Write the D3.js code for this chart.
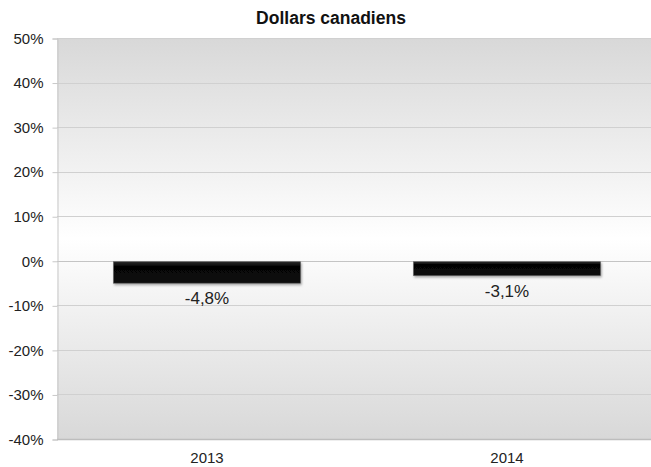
<!DOCTYPE html>
<html>
<head>
<meta charset="utf-8">
<script src="https://cdn.jsdelivr.net/npm/d3@7"></script>
<style>
	html, body { margin: 0; background: #fff; }
	svg { display: block; font-family: "Liberation Sans", Arial, sans-serif; }
</style>
</head>
<body>
<svg id="chart" width="651" height="467"></svg>
<script>
// chart data
const years = ['2013', '2014']
const changes = [-4.8, -3.1]
const labels = ['-4,8%', '-3,1%']
const yTicks = [50, 40, 30, 20, 10, 0, -10, -20, -30, -40]

const W = 651, H = 467
const margin = {top: 38, right: 0, bottom: 28, left: 57}

const svg = d3.select('#chart')

// the category bands run a little past the right edge of the picture
const x = d3.scaleBand().domain(years).range([margin.left, 657]).paddingInner(0.377).paddingOuter(0.1885)
const y = d3.scaleLinear().domain([-40, 50]).range([H - margin.bottom, margin.top])

// background gradient of the plot area
const defs = svg.append('defs')
const grad = defs.append('linearGradient').attr('id', 'bg').attr('x1', 0).attr('y1', 0).attr('x2', 0).attr('y2', 1)
grad.append('stop').attr('offset', '0%').attr('stop-color', '#d8d8d8')
grad.append('stop').attr('offset', '50%').attr('stop-color', '#ffffff')
grad.append('stop').attr('offset', '100%').attr('stop-color', '#d8d8d8')

const barGrad = defs.append('linearGradient').attr('id', 'bar').attr('x1', 0).attr('y1', 0).attr('x2', 0).attr('y2', 1)
barGrad.append('stop').attr('offset', '0%').attr('stop-color', '#2a2a2a')
barGrad.append('stop').attr('offset', '20%').attr('stop-color', '#050505')
barGrad.append('stop').attr('offset', '100%').attr('stop-color', '#0a0a0a')

const shadow = defs.append('filter').attr('id', 'shadow').attr('x', '-10%').attr('y', '-30%').attr('width', '120%').attr('height', '180%')
shadow.append('feDropShadow').attr('dx', 1).attr('dy', 1.5).attr('stdDeviation', 1).attr('flood-color', '#000').attr('flood-opacity', 0.35)

svg.append('rect')
	.attr('x', margin.left).attr('y', margin.top)
	.attr('width', W - margin.left - margin.right)
	.attr('height', y(-40) - y(50))
	.attr('fill', 'url(#bg)')

// gridlines
svg.append('g')
	.selectAll('line')
	.data(yTicks)
	.join('line')
	.attr('x1', margin.left).attr('x2', W - margin.right)
	.attr('y1', d => Math.round(y(d)) + 0.5).attr('y2', d => Math.round(y(d)) + 0.5)
	.attr('stroke', d => d === 0 ? '#c4c4c4' : '#d0d0d0')
	.attr('stroke-width', 1)

// y axis
const yAxis = d3.axisLeft(y).tickValues(yTicks).tickSize(5).tickPadding(9).tickFormat(d => d + '%')
const gy = svg.append('g').attr('transform', `translate(${margin.left + 0.5},0.5)`).call(yAxis)
gy.select('.domain').attr('stroke', '#c8c8c8')
gy.selectAll('.tick line').attr('stroke', '#c8c8c8')
gy.selectAll('.tick text').attr('font-size', 15).attr('fill', '#222').attr('font-family', '"Liberation Sans", Arial, sans-serif')

// x axis labels
const xAxis = d3.axisBottom(x).tickSize(0).tickPadding(13)
const gx = svg.append('g').attr('transform', `translate(0,${y(-40)})`).call(xAxis)
gx.select('.domain').remove()
gx.selectAll('.tick text').attr('font-size', 15).attr('fill', '#222').attr('font-family', '"Liberation Sans", Arial, sans-serif')
svg.append('line')
	.attr('x1', margin.left).attr('x2', W)
	.attr('y1', y(-40) + 0.5).attr('y2', y(-40) + 0.5)
	.attr('stroke', '#bdbdbd').attr('stroke-width', 1.5)

// bars
svg.append('g')
	.selectAll('rect')
	.data(changes)
	.join('rect')
	.attr('x', (d, i) => x(years[i]))
	.attr('y', d => y(Math.max(0, d)) + 1)
	.attr('width', x.bandwidth())
	.attr('height', d => Math.abs(y(d) - y(0)))
	.attr('fill', 'url(#bar)')
	.attr('stroke', '#555')
	.attr('stroke-width', 0.6)
	.attr('filter', 'url(#shadow)')

// value labels
svg.append('g')
	.selectAll('text')
	.data(changes)
	.join('text')
	.attr('x', (d, i) => x(years[i]) + x.bandwidth() / 2)
	.attr('y', d => y(d) + 22)
	.attr('text-anchor', 'middle')
	.attr('font-size', 17)
	.attr('fill', '#222')
	.text((d, i) => labels[i])

// title
svg.append('text')
	.attr('x', 331).attr('y', 24)
	.attr('text-anchor', 'middle')
	.attr('font-size', 17.5)
	.attr('font-weight', 'bold')
	.attr('fill', '#111')
	.text('Dollars canadiens')
</script>
</body>
</html>
